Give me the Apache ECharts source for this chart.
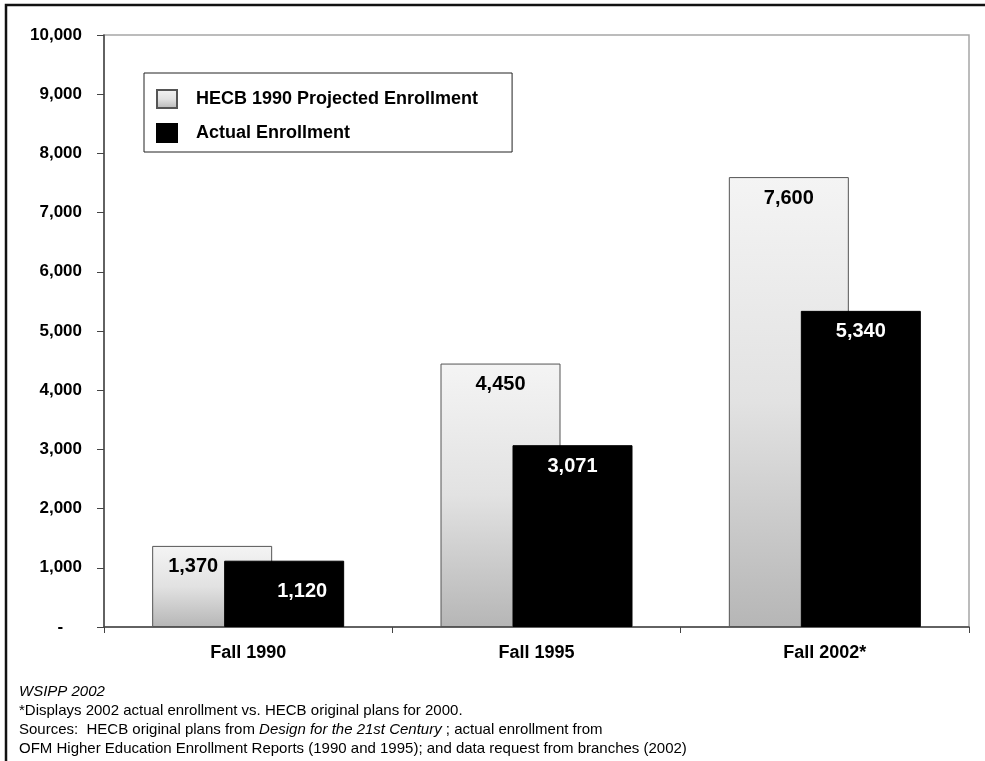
<!DOCTYPE html>
<html>
<head>
<meta charset="utf-8">
<script src="https://cdn.jsdelivr.net/npm/echarts@6/dist/echarts.min.js"></script>
<style>
  html, body { margin: 0; padding: 0; background: #fff; }
  #chart { width: 985px; height: 761px; }
</style>
</head>
<body>
<div id="chart"></div>
<script>
// Enrollment figures per campus-year
const categories = ['Fall 1990', 'Fall 1995', 'Fall 2002*'];
const projectedName = 'HECB 1990 Projected Enrollment';
const actualName = 'Actual Enrollment';
const projected = [1370, 4450, 7600];
const actual = [1120, 3071, 5340];
const yTicks = { min: 0, max: 10000, step: 1000 };

const notes = [
  { text: 'WSIPP 2002', italic: true },
  { text: '*Displays 2002 actual enrollment vs. HECB original plans for 2000.' },
  { rich: true },
  { text: 'OFM Higher Education Enrollment Reports (1990 and 1995); and data request from branches (2002)' }
];

const fmt = v => v.toLocaleString('en-US');
const FONT = 'Liberation Sans, Arial, sans-serif';

// Label placement inside each bar (px from the bar's top-left corner)
function labelPos(i, isActual) {
  if (i === 0) return isActual ? [78, 31] : [41, 21];
  return [60, 21];
}

const chart = echarts.init(document.getElementById('chart'), null, { renderer: 'canvas' });

const noteGraphics = notes.map((n, i) => {
  const y = 693 + i * 19;
  if (n.rich) {
    return {
      type: 'text', left: 19, top: y - 9,
      style: {
        text: '{n|Sources:  HECB original plans from }{i|Design for the 21st Century}{n| ; actual enrollment from}',
        rich: {
          n: { font: '15px ' + FONT, fill: '#000' },
          i: { font: 'italic 15px ' + FONT, fill: '#000' }
        }
      }
    };
  }
  return {
    type: 'text', left: 19, top: y - 9,
    style: { text: n.text, font: (n.italic ? 'italic ' : '') + '15px ' + FONT, fill: '#000' }
  };
});

chart.setOption({
  animation: false,
  backgroundColor: '#fff',
  textStyle: { fontFamily: FONT },
  grid: {
    left: 104, right: 16, top: 35, bottom: 134,
    show: true, borderColor: '#a6a6a6', borderWidth: 1.5, backgroundColor: 'transparent'
  },
  legend: {
    orient: 'vertical',
    left: 144, top: 73,
    padding: [16, 34, 9, 12],
    itemWidth: 20, itemHeight: 18, itemGap: 14,
    icon: 'rect',
    borderColor: '#222', borderWidth: 1,
    backgroundColor: '#fff',
    data: [projectedName, actualName],
    textStyle: { fontFamily: FONT, fontWeight: 'bold', fontSize: 18, color: '#000', padding: [0, 0, 0, 14] }
  },
  xAxis: {
    type: 'category',
    data: categories,
    axisLine: { lineStyle: { color: '#444', width: 1.5 } },
    axisTick: { show: true, alignWithLabel: false, length: 6, lineStyle: { color: '#444' } },
    axisLabel: { fontFamily: FONT, fontWeight: 'bold', fontSize: 18, color: '#000', margin: 17 }
  },
  yAxis: {
    type: 'value',
    min: yTicks.min, max: yTicks.max, interval: yTicks.step,
    splitLine: { show: false },
    axisLine: { show: true, lineStyle: { color: '#444', width: 1.5 } },
    axisTick: { show: true, length: 7, lineStyle: { color: '#444' } },
    axisLabel: {
      fontFamily: FONT, fontWeight: 'bold', fontSize: 17, color: '#000', margin: 22,
      formatter: v => v === 0 ? '-    ' : fmt(v)
    }
  },
  series: [
    {
      name: projectedName,
      type: 'bar',
      barWidth: 120,
      barGap: '-40%',
      itemStyle: {
        color: new echarts.graphic.LinearGradient(0, 0, 0, 1, [
          { offset: 0, color: '#f4f4f4' },
          { offset: 0.5, color: '#e2e2e2' },
          { offset: 1, color: '#b6b6b6' }
        ]),
        borderColor: '#555', borderWidth: 1
      },
      data: projected.map((v, i) => ({
        value: v,
        label: {
          show: true, position: labelPos(i, false), align: 'center', verticalAlign: 'middle',
          formatter: p => fmt(p.value),
          fontFamily: FONT, fontWeight: 'bold', fontSize: 20, color: '#000'
        }
      })),
      z: 2
    },
    {
      name: actualName,
      type: 'bar',
      barWidth: 120,
      itemStyle: { color: '#000', borderColor: '#000', borderWidth: 1 },
      data: actual.map((v, i) => ({
        value: v,
        label: {
          show: true, position: labelPos(i, true), align: 'center', verticalAlign: 'middle',
          formatter: p => fmt(p.value),
          fontFamily: FONT, fontWeight: 'bold', fontSize: 20, color: '#fff'
        }
      })),
      z: 3
    }
  ],
  graphic: [
    {
      type: 'rect', silent: true,
      shape: { x: 6, y: 5, width: 1000, height: 800 },
      style: { fill: 'none', stroke: '#111', lineWidth: 2.5 }
    }
  ].concat(noteGraphics)
});
</script>
</body>
</html>
